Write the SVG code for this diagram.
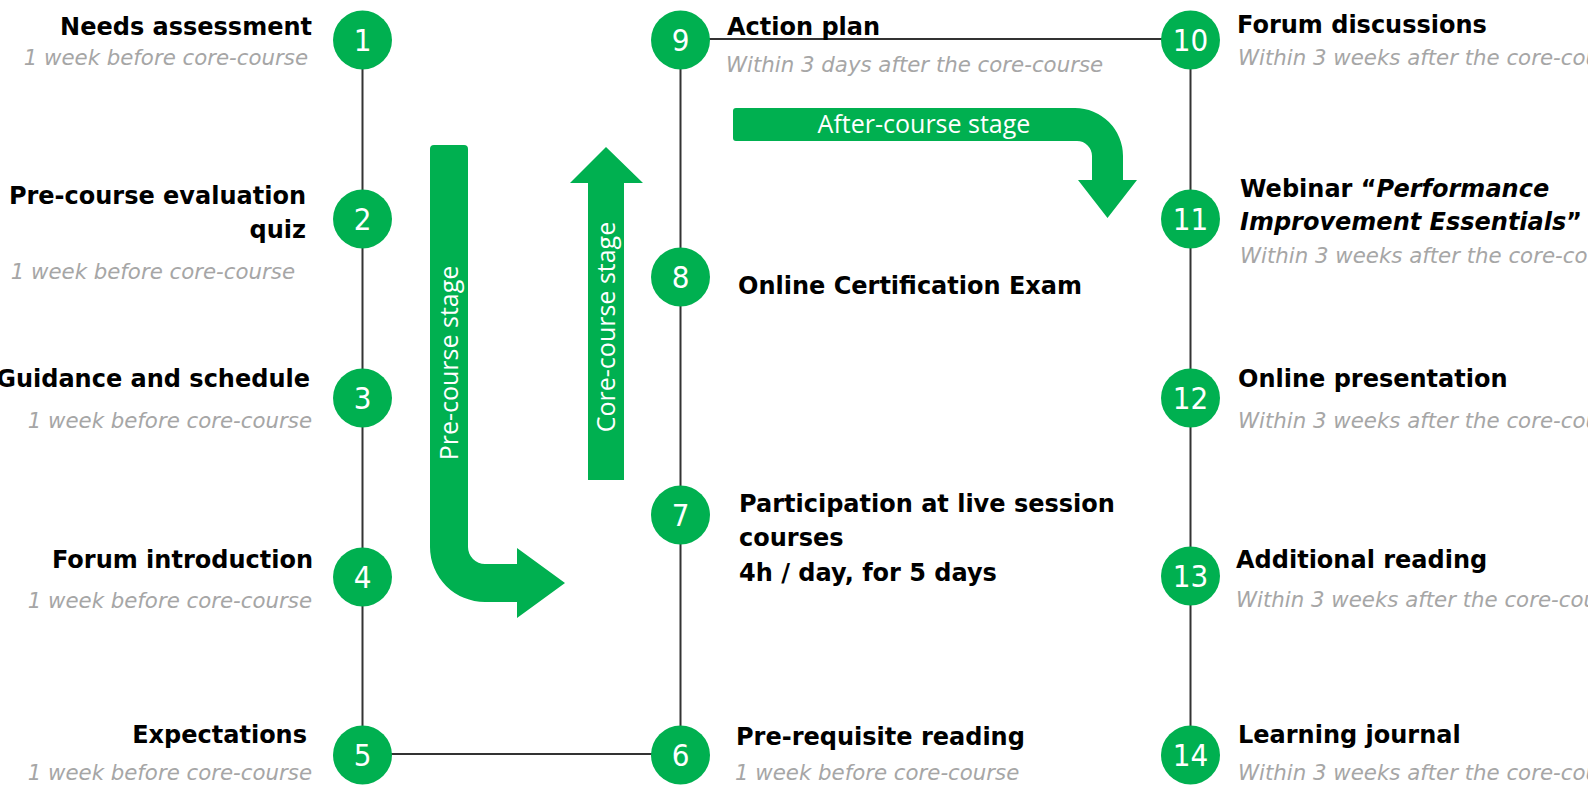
<svg xmlns="http://www.w3.org/2000/svg" width="1588" height="785" viewBox="0 0 1588 785">
<defs>
<style>
.bg{fill:#ffffff}
.ln{stroke:#333333;stroke-width:2;fill:none}
.dot{fill:#00b050}
.num{font-family:"Liberation Sans Narrow","DejaVu Sans Condensed","Roboto",sans-serif;font-size:31px;fill:#ffffff;text-anchor:middle}
.t{font-family:"DejaVu Sans",Verdana,sans-serif;font-weight:bold;font-size:24px;fill:#000000}
.s{font-family:"DejaVu Sans",Verdana,sans-serif;font-style:italic;font-size:21.3px;fill:#a6a6a6}
.r{text-anchor:end}
.arw{fill:#00b050}
.lab{font-family:"Open Sans","Noto Sans",sans-serif;font-size:25px;fill:#ffffff;text-anchor:middle}
</style>
</defs>
<rect class="bg" x="0" y="0" width="1588" height="785"/>

<g id="connectors">
<line class="ln" x1="362.5" y1="40" x2="362.5" y2="755"/>
<line class="ln" x1="680.5" y1="40" x2="680.5" y2="755"/>
<line class="ln" x1="1190.5" y1="40" x2="1190.5" y2="755"/>
<line class="ln" x1="362.5" y1="754" x2="680.5" y2="754"/>
<line class="ln" x1="680.5" y1="39" x2="1190.5" y2="39"/>
</g>

<g id="stage-arrows">
<g id="pre-course-arrow">
<path class="arw" d="M430,149 Q430,145 434,145 L464,145 Q468,145 468,149 L468,547 A17,17 0 0 0 485,564 L517,564 L517,548 L565,583 L517,618 L517,602 L485,602 A55,55 0 0 1 430,547 Z"/>
<text class="lab" transform="translate(458,363) rotate(-90)">Pre-course stage</text>
</g>
<g id="core-course-arrow">
<path class="arw" d="M588,480 L588,183 L570,183 L606,147 L643,183 L624,183 L624,480 Z"/>
<text class="lab" transform="translate(615,327) rotate(-90)">Core-course stage</text>
</g>
<g id="after-course-arrow">
<path class="arw" d="M736,108 L1075,108 A48,48 0 0 1 1123,156 L1123,180 L1137,180 L1107.5,218 L1078,180 L1092,180 L1092,156 A15,15 0 0 0 1077,141 L736,141 Q733,141 733,138 L733,111 Q733,108 736,108 Z"/>
<text class="lab" x="924" y="133">After-course stage</text>
</g>
</g>

<g id="n1">
<circle class="dot" cx="362.5" cy="40" r="29.5"/>
<text class="num" x="362.5" y="51">1</text>
<text class="t r" x="312" y="35">Needs assessment</text>
<text class="s r" x="308" y="65">1 week before core-course</text>
</g>
<g id="n2">
<circle class="dot" cx="362.5" cy="219" r="29.5"/>
<text class="num" x="362.5" y="230">2</text>
<text class="t r" x="306" y="204">Pre-course evaluation</text>
<text class="t r" x="306" y="238">quiz</text>
<text class="s r" x="295" y="279">1 week before core-course</text>
</g>
<g id="n3">
<circle class="dot" cx="362.5" cy="398" r="29.5"/>
<text class="num" x="362.5" y="409">3</text>
<text class="t r" x="310" y="387">Guidance and schedule</text>
<text class="s r" x="312" y="428">1 week before core-course</text>
</g>
<g id="n4">
<circle class="dot" cx="362.5" cy="577" r="29.5"/>
<text class="num" x="362.5" y="588">4</text>
<text class="t r" x="313" y="568">Forum introduction</text>
<text class="s r" x="312" y="608">1 week before core-course</text>
</g>
<g id="n5">
<circle class="dot" cx="362.5" cy="755" r="29.5"/>
<text class="num" x="362.5" y="766">5</text>
<text class="t r" x="307" y="743">Expectations</text>
<text class="s r" x="312" y="780">1 week before core-course</text>
</g>

<g id="n6">
<circle class="dot" cx="680.5" cy="755" r="29.5"/>
<text class="num" x="680.5" y="766">6</text>
<text class="t" x="736" y="745">Pre-requisite reading</text>
<text class="s" x="735" y="780">1 week before core-course</text>
</g>
<g id="n7">
<circle class="dot" cx="680.5" cy="515" r="29.5"/>
<text class="num" x="680.5" y="526">7</text>
<text class="t" x="739" y="512">Participation at live session</text>
<text class="t" x="739" y="546">courses</text>
<text class="t" x="739" y="581">4h / day, for 5 days</text>
</g>
<g id="n8">
<circle class="dot" cx="680.5" cy="277" r="29.5"/>
<text class="num" x="680.5" y="288">8</text>
<text class="t" x="738" y="294">Online Certification Exam</text>
</g>
<g id="n9">
<circle class="dot" cx="680.5" cy="40" r="29.5"/>
<text class="num" x="680.5" y="51">9</text>
<text class="t" x="727" y="35">Action plan</text>
<text class="s" x="726" y="72">Within 3 days after the core-course</text>
</g>

<g id="n10">
<circle class="dot" cx="1190.5" cy="40" r="29.5"/>
<text class="num" x="1190.5" y="51">10</text>
<text class="t" x="1237" y="33">Forum discussions</text>
<text class="s" x="1238" y="65">Within 3 weeks after the core-course</text>
</g>
<g id="n11">
<circle class="dot" cx="1190.5" cy="219" r="29.5"/>
<text class="num" x="1190.5" y="230">11</text>
<text class="t" x="1240" y="197">Webinar “<tspan font-style="italic">Performance</tspan></text>
<text class="t" x="1240" y="230"><tspan font-style="italic">Improvement Essentials</tspan>”</text>
<text class="s" x="1240" y="263">Within 3 weeks after the core-course</text>
</g>
<g id="n12">
<circle class="dot" cx="1190.5" cy="398" r="29.5"/>
<text class="num" x="1190.5" y="409">12</text>
<text class="t" x="1238" y="387">Online presentation</text>
<text class="s" x="1238" y="428">Within 3 weeks after the core-course</text>
</g>
<g id="n13">
<circle class="dot" cx="1190.5" cy="576" r="29.5"/>
<text class="num" x="1190.5" y="587">13</text>
<text class="t" x="1236" y="568">Additional reading</text>
<text class="s" x="1236" y="607">Within 3 weeks after the core-course</text>
</g>
<g id="n14">
<circle class="dot" cx="1190.5" cy="755" r="29.5"/>
<text class="num" x="1190.5" y="766">14</text>
<text class="t" x="1238" y="743">Learning journal</text>
<text class="s" x="1238" y="780">Within 3 weeks after the core-course</text>
</g>
</svg>
